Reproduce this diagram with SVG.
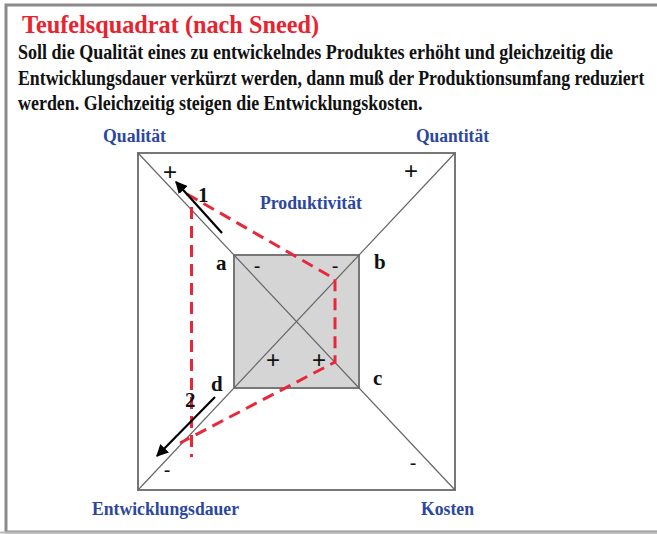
<svg xmlns="http://www.w3.org/2000/svg" width="657" height="534" viewBox="0 0 657 534">
<style>
.body{font-family:"Liberation Serif","Times New Roman",serif;font-weight:bold;font-size:20px;fill:#111}
.lbl{font-family:"Liberation Serif","Times New Roman",serif;font-weight:bold;font-size:18px;fill:#2b47a0}
.ltr{font-family:"Liberation Serif","Times New Roman",serif;font-weight:bold;font-size:21px;fill:#111}
.sgn{font-family:"Liberation Sans",Arial,sans-serif;font-size:20px;fill:#111;text-anchor:middle}
.pls{font-family:"Liberation Sans",Arial,sans-serif;font-size:24px;fill:#111;text-anchor:middle}
.diag{stroke:#666;stroke-width:1.2;fill:none}
.red{stroke:#e8283a;stroke-width:3;fill:none;stroke-dasharray:12 7}
.arr{stroke:#000;stroke-width:2.2;fill:none}
</style>
<defs>
<marker id="ah" viewBox="0 0 10 10" refX="9" refY="5" markerWidth="5.5" markerHeight="5.5" orient="auto" markerUnits="strokeWidth">
<path d="M0,0 L10,5 L0,10 z" fill="#000"/>
</marker>
</defs>
<rect x="0" y="0" width="657" height="534" fill="#fff"/>
<rect x="6" y="5" width="660" height="527" fill="none" stroke="#8a8a8a" stroke-width="3"/>
<line x1="0" y1="532.5" x2="657" y2="532.5" stroke="#bbb" stroke-width="2"/>

<g id="title">
<text x="22" y="33" font-family="'Liberation Serif','Times New Roman',serif" font-weight="bold" font-size="26" fill="#e8232f" textLength="297" lengthAdjust="spacingAndGlyphs">Teufelsquadrat (nach Sneed)</text>
<text class="body" transform="matrix(0.85,0,0,1,18,59)" x="0" y="0" textLength="700" lengthAdjust="spacingAndGlyphs">Soll die Qualität eines zu entwickelndes Produktes erhöht und gleichzeitig die</text>
<text class="body" transform="matrix(0.85,0,0,1,18,85)" x="0" y="0" textLength="737" lengthAdjust="spacingAndGlyphs">Entwicklungsdauer verkürzt werden, dann muß der Produktionsumfang reduziert</text>
<text class="body" transform="matrix(0.85,0,0,1,18,110)" x="0" y="0" textLength="476" lengthAdjust="spacingAndGlyphs">werden. Gleichzeitig steigen die Entwicklungskosten.</text>
</g>

<g id="outer-square">
<rect x="138" y="153" width="317" height="337" fill="none" stroke="#777" stroke-width="2"/>
</g>
<g id="inner-square">
<rect x="234" y="255" width="125" height="133" fill="#d5d5d5" stroke="#777" stroke-width="2"/>
</g>

<g id="connectors">
<line class="diag" x1="138" y1="153" x2="455" y2="490"/>
<line class="diag" x1="455" y1="153" x2="138" y2="490"/>
<line class="red" x1="191.5" y1="207" x2="191.5" y2="457"/>
<polyline class="red" points="187,194 335,279 335,362 180,443"/>
<line class="arr" x1="222" y1="233" x2="176" y2="182" marker-end="url(#ah)"/>
<line class="arr" x1="215" y1="397" x2="157" y2="456" marker-end="url(#ah)"/>
</g>

<g id="labels">
<text class="lbl" x="103" y="142" textLength="63" lengthAdjust="spacingAndGlyphs">Qualität</text>
<text class="lbl" x="416" y="142" textLength="73" lengthAdjust="spacingAndGlyphs">Quantität</text>
<text class="lbl" x="260" y="209" textLength="102" lengthAdjust="spacingAndGlyphs">Produktivität</text>
<text class="lbl" x="92" y="515" textLength="147" lengthAdjust="spacingAndGlyphs">Entwicklungsdauer</text>
<text class="lbl" x="421" y="515" textLength="53" lengthAdjust="spacingAndGlyphs">Kosten</text>
</g>

<g id="corner-letters">
<text class="ltr" x="216" y="270">a</text>
<text class="ltr" x="374" y="269">b</text>
<text class="ltr" x="373" y="385">c</text>
<text class="ltr" x="211" y="391">d</text>
<text class="ltr" x="198" y="202">1</text>
<text class="ltr" x="185" y="407">2</text>
</g>

<g id="signs">
<text class="pls" x="170" y="180">+</text>
<text class="pls" x="411" y="179">+</text>
<text class="pls" x="273" y="368">+</text>
<text class="pls" x="319" y="368">+</text>
<text class="sgn" x="257" y="273">-</text>
<text class="sgn" x="335" y="273">-</text>
<text class="sgn" x="167" y="477">-</text>
<text class="sgn" x="413" y="470">-</text>
</g>
</svg>
